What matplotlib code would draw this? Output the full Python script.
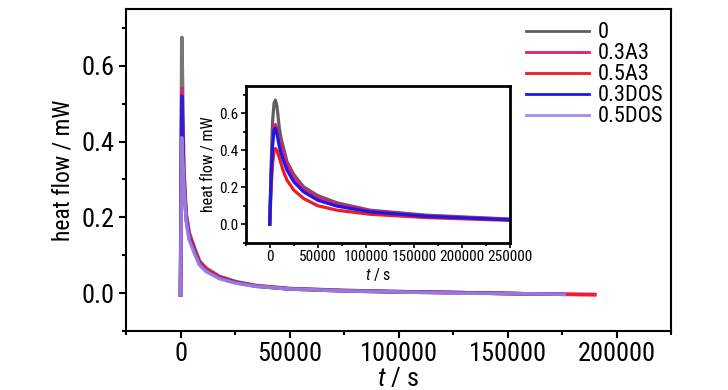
import matplotlib
matplotlib.use("Agg")
import matplotlib.pyplot as plt
from matplotlib.ticker import MultipleLocator

plt.rcParams['font.family'] = ['Roboto Condensed', 'Liberation Sans', 'DejaVu Sans']
plt.rcParams['mathtext.fontset'] = 'custom'
plt.rcParams['mathtext.it'] = 'Roboto Condensed:italic'
plt.rcParams['mathtext.rm'] = 'Roboto Condensed'

labels = ['0', '0.3A3', '0.5A3', '0.3DOS', '0.5DOS']
colors = ['#5f5f5f', '#e5177a', '#ec1c24', '#1a1ae6', '#a98be0']

# main plot
t_main = [0, 600, 1500, 2600, 4000, 6400, 8700, 11800, 17900, 25600, 34800,
          50000, 75000, 100000, 130000, 160000, 176000]
t_main_long = t_main + [190000]
hf_main = {
    '0':      [-0.005, 0.675, 0.33, 0.21, 0.16, 0.12, 0.085, 0.066, 0.044, 0.030, 0.020,
               0.012, 0.007, 0.004, 0.001, -0.002, -0.003],
    '0.3A3':  [-0.005, 0.54, 0.32, 0.205, 0.155, 0.117, 0.083, 0.064, 0.043, 0.029, 0.019,
               0.012, 0.007, 0.004, 0.001, -0.002, -0.003, -0.004],
    '0.5A3':  [-0.005, 0.41, 0.30, 0.20, 0.15, 0.113, 0.081, 0.062, 0.042, 0.028, 0.019,
               0.011, 0.006, 0.003, 0.001, -0.002, -0.003, -0.004],
    '0.3DOS': [-0.005, 0.52, 0.30, 0.195, 0.145, 0.108, 0.076, 0.058, 0.039, 0.027, 0.018,
               0.011, 0.006, 0.003, 0.001, -0.002, -0.003],
    '0.5DOS': [-0.005, 0.41, 0.29, 0.19, 0.14, 0.105, 0.074, 0.057, 0.038, 0.026, 0.018,
               0.011, 0.006, 0.003, 0.000, -0.002, -0.003],
}

# inset
t_ins = [0, 1500, 3000, 4500, 5900, 7500, 10000, 12000, 14000, 18000, 25000,
         35300, 50000, 69900, 104500, 163000, 250000]
hf_ins = {
    '0':      [0, 0.33, 0.56, 0.655, 0.672, 0.64, 0.52, 0.46, 0.42, 0.338, 0.27,
               0.202, 0.155, 0.116, 0.076, 0.049, 0.028],
    '0.3A3':  [0, 0.27, 0.45, 0.53, 0.54, 0.515, 0.455, 0.42, 0.39, 0.32, 0.255,
               0.19, 0.145, 0.108, 0.072, 0.046, 0.026],
    '0.5A3':  [0, 0.20, 0.33, 0.395, 0.41, 0.40, 0.36, 0.325, 0.29, 0.238, 0.185,
               0.139, 0.10, 0.076, 0.054, 0.036, 0.021],
    '0.3DOS': [0, 0.26, 0.43, 0.51, 0.52, 0.49, 0.42, 0.38, 0.35, 0.293, 0.23,
               0.175, 0.13, 0.098, 0.067, 0.043, 0.024],
}

fig = plt.figure(figsize=(7.28, 3.9), dpi=100)
ax = fig.add_axes([126/728, 59/390, 545/728, 322/390])

for lab, c in zip(labels, colors):
    y = hf_main[lab]
    t = t_main_long if len(y) == len(t_main_long) else t_main
    ax.plot(t, y, color=c, lw=2.6, alpha=0.85, label=lab)

ax.set_xlim(-25000, 225000)
ax.set_ylim(-0.1, 0.75)
ax.xaxis.set_major_locator(MultipleLocator(50000))
ax.xaxis.set_minor_locator(MultipleLocator(25000))
ax.yaxis.set_major_locator(MultipleLocator(0.2))
ax.yaxis.set_minor_locator(MultipleLocator(0.1))
ax.yaxis.set_major_formatter(plt.FuncFormatter(lambda v, p: f'{v:.1f}'))
ax.tick_params(which='both', direction='out', width=1.5, labelsize=19, pad=3)
ax.tick_params(which='major', length=5)
ax.tick_params(which='minor', length=3)
for s in ax.spines.values():
    s.set_linewidth(1.5)
ax.set_xlabel(r'$t$ / s', fontsize=19)
ax.xaxis.set_label_coords(0.5, -0.15)
ax.xaxis.label.set_va('center')
ax.set_ylabel('heat flow / mW', fontsize=17)
ax.yaxis.set_label_coords(-0.116, 0.5)
ax.yaxis.label.set_va('center')

leg = ax.legend(loc='upper right', bbox_to_anchor=(1.01, 1.0), frameon=False,
                fontsize=16, handlelength=2.8, handletextpad=0.4, labelspacing=0.0,
                borderaxespad=0.2)
for h in leg.get_lines():
    h.set_linewidth(2)
    h.set_alpha(1)

# inset axes
axi = fig.add_axes([245.7/728, 147.3/390, 264.3/728, 157/390])
for lab, c in zip(labels[:4], colors[:4]):
    axi.plot(t_ins, hf_ins[lab], color=c, lw=2.3)
axi.set_xlim(-25000, 250000)
axi.set_ylim(-0.1, 0.75)
axi.xaxis.set_major_locator(MultipleLocator(50000))
axi.xaxis.set_minor_locator(MultipleLocator(25000))
axi.yaxis.set_major_locator(MultipleLocator(0.2))
axi.yaxis.set_minor_locator(MultipleLocator(0.1))
axi.yaxis.set_major_formatter(plt.FuncFormatter(lambda v, p: f'{v:.1f}'))
axi.tick_params(which='both', direction='out', width=1.2, labelsize=11, pad=2)
axi.tick_params(which='major', length=3.5)
axi.tick_params(which='minor', length=2)
for s in axi.spines.values():
    s.set_linewidth(2)
axi.set_xlabel(r'$t$ / s', fontsize=11.5, labelpad=1)
axi.set_ylabel('heat flow / mW', fontsize=11.5, labelpad=2)

fig.savefig('out.png', dpi=100)
